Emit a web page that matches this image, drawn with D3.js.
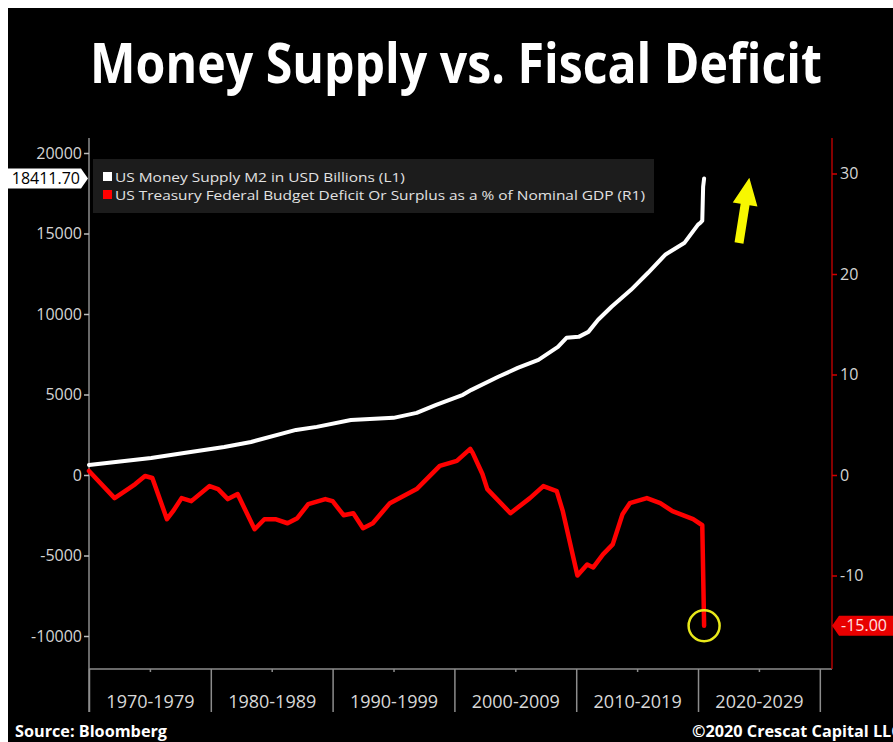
<!DOCTYPE html>
<html>
<head>
<meta charset="utf-8">
<script src="https://cdn.jsdelivr.net/npm/d3@7"></script>
<style>
  html, body { margin: 0; padding: 0; background: #ffffff; }
  svg { display: block; }
  text { font-family: "Open Sans", "DejaVu Sans", sans-serif; }
</style>
</head>
<body>
<svg id="chart" width="893" height="742"></svg>
<script>
// ---- data -------------------------------------------------------------
// US Money Supply M2, USD billions (left axis)
const m2Years  = [1970.0, 1975.1, 1977.8, 1981.1, 1983.3, 1987.0, 1988.7, 1991.5, 1995.0, 1996.9,
                  1998.5, 2000.7, 2001.4, 2003.6, 2005.2, 2006.9, 2008.5, 2009.2, 2010.2, 2011.0,
                  2011.8, 2012.9, 2014.5, 2015.9, 2017.3, 2018.9, 2020.0, 2020.2, 2020.35, 2020.42, 2020.5];
const m2Values = [620, 1060, 1370, 1740, 2050, 2800, 2990, 3420, 3550, 3860,
                  4350, 4980, 5290, 6100, 6650, 7150, 7960, 8520, 8580, 8890,
                  9640, 10450, 11500, 12560, 13680, 14430, 15550, 15670, 15800, 17910, 18411.7];

// Federal budget deficit / surplus, % of nominal GDP (right axis)
const defYears  = [1970.0, 1972.1, 1973.2, 1973.8, 1974.6, 1975.2, 1976.4, 1976.9, 1977.6, 1978.4,
                   1979.9, 1980.6, 1981.4, 1982.2, 1983.6, 1984.4, 1985.3, 1986.3, 1987.1, 1988.0,
                   1989.4, 1990.0, 1990.9, 1991.7, 1992.5, 1993.3, 1994.7, 1996.9, 1998.8, 2000.2,
                   2001.3, 2001.5, 2002.3, 2002.7, 2004.6, 2006.2, 2007.3, 2008.4, 2008.9, 2010.1,
                   2010.9, 2011.4, 2012.2, 2013.0, 2013.8, 2014.4, 2015.8, 2016.9, 2017.9, 2019.6,
                   2020.35, 2020.5];
const defValues = [0.4, -2.3, -1.4, -0.9, -0.1, -0.3, -4.4, -3.6, -2.3, -2.6,
                   -1.1, -1.4, -2.4, -1.9, -5.4, -4.4, -4.4, -4.8, -4.3, -2.9,
                   -2.4, -2.6, -4.0, -3.8, -5.3, -4.8, -2.8, -1.4, 0.9, 1.4,
                   2.6, 2.2, 0.1, -1.4, -3.8, -2.3, -1.1, -1.6, -3.6, -10.0,
                   -8.9, -9.2, -7.9, -6.9, -3.9, -2.8, -2.3, -2.8, -3.6, -4.4,
                   -5.0, -15.0];

// axis ticks and labels
const leftTicks   = [-10000, -5000, 0, 5000, 10000, 15000, 20000];
const rightTicks  = [-10, 0, 10, 20, 30];
const decadeStarts = [1970, 1980, 1990, 2000, 2010, 2020, 2030];
const decadeMids   = [1975, 1985, 1995, 2005, 2015, 2025];

const titleText   = "Money Supply vs. Fiscal Deficit";
const seriesNames = ["US Money Supply M2 in USD Billions (L1)",
                     "US Treasury Federal Budget Deficit Or Surplus as a % of Nominal GDP (R1)"];
const sourceText  = "Source: Bloomberg";
const creditText  = "\u00A92020 Crescat Capital LLC";

const m2 = m2Years.map((t, i) => ({ t, v: m2Values[i] }));
const def = defYears.map((t, i) => ({ t, v: defValues[i] }));

// plain numbers with an ASCII hyphen for negatives
const plain = d => String(d);

// ---- layout -----------------------------------------------------------
const W = 893, H = 742;
const plotLeft = 89, plotRight = 832, plotTop = 138, plotBottom = 669;

const svg = d3.select("#chart");

// black canvas with a thin white margin on the top and left
svg.append("rect").attr("x", 0).attr("y", 0).attr("width", W).attr("height", H).attr("fill", "#ffffff");
svg.append("rect").attr("x", 8).attr("y", 8).attr("width", W - 8).attr("height", H - 8).attr("fill", "#000000");

// scales
const x  = d3.scaleLinear().domain([1970, 2031]).range([plotLeft, plotRight]);
const yL = d3.scaleLinear().domain([-10000, 20000]).range([636, 153]);
const yR = d3.scaleLinear().domain([-10, 30]).range([575.5, 173.5]);

// ---- title ------------------------------------------------------------
// set in a tall bold face, then narrowed horizontally to span the plot width
const titleG = svg.append("g");
const title = titleG.append("text")
  .attr("x", 0).attr("y", 0)
  .attr("text-anchor", "middle")
  .attr("fill", "#ffffff")
  .attr("font-size", 55)
  .attr("font-weight", 700)
  .text(titleText);
const titleScale = 732 / title.node().getComputedTextLength();
titleG.attr("transform", `translate(456,83) scale(${titleScale},1)`);

// ---- x axis: decade bands ----------------------------------------------
svg.append("line")
  .attr("x1", plotLeft).attr("x2", plotRight)
  .attr("y1", plotBottom).attr("y2", plotBottom)
  .attr("stroke", "#8c8c8c").attr("stroke-width", 1.5);

const xSep = svg.append("g").attr("transform", `translate(0,${plotBottom})`)
  .call(d3.axisBottom(x).tickValues(decadeStarts).tickSize(43).tickFormat(""));
xSep.select(".domain").remove();
xSep.selectAll(".tick line").attr("stroke", "#8c8c8c").attr("stroke-width", 1.5);

const xLab = svg.append("g").attr("transform", `translate(0,${plotBottom})`)
  .call(d3.axisBottom(x).tickValues(decadeMids).tickSize(3).tickPadding(23)
    .tickFormat(d => `${d - 5}-${d + 4}`));
xLab.select(".domain").remove();
xLab.selectAll(".tick line").attr("stroke", "#8c8c8c").attr("stroke-width", 1.5);
xLab.selectAll(".tick text")
  .attr("fill", "#d8d8d8")
  .attr("font-size", 18)
  .attr("font-family", "'Open Sans', sans-serif");

// ---- left axis ----------------------------------------------------------
svg.append("line")
  .attr("x1", plotLeft).attr("x2", plotLeft)
  .attr("y1", plotTop).attr("y2", plotBottom + 43)
  .attr("stroke", "#8c8c8c").attr("stroke-width", 1.5);

const axL = svg.append("g").attr("transform", `translate(${plotLeft},0)`)
  .call(d3.axisLeft(yL).tickValues(leftTicks).tickSize(5).tickPadding(2).tickFormat(plain));
axL.select(".domain").remove();
axL.selectAll(".tick line").attr("stroke", "#bdbdbd").attr("stroke-width", 1.5);
axL.selectAll(".tick text")
  .attr("fill", "#d4d4d4")
  .attr("font-size", 16)
  .attr("font-family", "'Open Sans', sans-serif");

// ---- right axis ---------------------------------------------------------
svg.append("line")
  .attr("x1", plotRight).attr("x2", plotRight)
  .attr("y1", plotTop).attr("y2", plotBottom)
  .attr("stroke", "#b00000").attr("stroke-width", 1.5);

const axR = svg.append("g").attr("transform", `translate(${plotRight},0)`)
  .call(d3.axisRight(yR).tickValues(rightTicks).tickSize(5).tickPadding(3).tickFormat(plain));
axR.select(".domain").remove();
axR.selectAll(".tick line").attr("stroke", "#d00000").attr("stroke-width", 1.5);
axR.selectAll(".tick text")
  .attr("fill", "#d4d4d4")
  .attr("font-size", 16)
  .attr("font-family", "'Open Sans', sans-serif");

// ---- legend -------------------------------------------------------------
svg.append("rect")
  .attr("x", 93).attr("y", 159).attr("width", 561).attr("height", 54)
  .attr("fill", "#1c1c1c");

const legendColors = ["#ffffff", "#ff0000"];
const legendY = [177, 195];
const legend = svg.append("g");
seriesNames.forEach((name, i) => {
  legend.append("rect")
    .attr("x", 103).attr("y", legendY[i] - 5).attr("width", 9).attr("height", 9)
    .attr("fill", legendColors[i]);
  legend.append("text")
    .attr("class", "legend-label")
    .attr("x", 115).attr("y", legendY[i] + 5)
    .attr("fill", "#e2e2e2")
    .attr("font-size", 13)
    .text(name);
});
// stretch the legend type so the long entry spans the box; the short one keeps the same proportion
const labels = legend.selectAll(".legend-label").nodes();
const stretch = 530 / labels[1].getComputedTextLength();
labels.forEach(node => {
  d3.select(node)
    .attr("textLength", node.getComputedTextLength() * stretch)
    .attr("lengthAdjust", "spacingAndGlyphs");
});

// ---- series -------------------------------------------------------------
const lineM2 = d3.line().x(d => x(d.t)).y(d => yL(d.v));
const lineDef = d3.line().x(d => x(d.t)).y(d => yR(d.v));

svg.append("path").datum(def)
  .attr("d", lineDef)
  .attr("fill", "none")
  .attr("stroke", "#ff0000")
  .attr("stroke-width", 4.5)
  .attr("stroke-linejoin", "round")
  .attr("stroke-linecap", "round");

svg.append("path").datum(m2)
  .attr("d", lineM2)
  .attr("fill", "none")
  .attr("stroke", "#ffffff")
  .attr("stroke-width", 4)
  .attr("stroke-linejoin", "round")
  .attr("stroke-linecap", "round");

// ---- last-value tags ----------------------------------------------------
const lastM2 = m2[m2.length - 1];
const lastDef = def[def.length - 1];

const tagL = svg.append("g").attr("transform", `translate(0,${yL(lastM2.v)})`);
tagL.append("path")
  .attr("d", "M0,-10 L81,-10 L88,0 L81,10 L0,10 Z")
  .attr("fill", "#ffffff");
tagL.append("text")
  .attr("x", 80).attr("y", 5.5)
  .attr("text-anchor", "end")
  .attr("fill", "#000000")
  .attr("font-size", 16)
  .text(lastM2.v.toFixed(2));

const tagR = svg.append("g").attr("transform", `translate(${plotRight},${yR(lastDef.v)})`);
tagR.append("path")
  .attr("d", "M0,0 L7,-10 L70,-10 L70,10 L7,10 Z")
  .attr("fill", "#e80000");
tagR.append("text")
  .attr("x", 9).attr("y", 5.5)
  .attr("fill", "#ffe0e0")
  .attr("font-size", 16)
  .text(lastDef.v.toFixed(2));

// ---- annotations --------------------------------------------------------
// ring around the latest deficit reading
svg.append("circle")
  .attr("cx", x(lastDef.t)).attr("cy", yR(lastDef.v))
  .attr("r", 15.5)
  .attr("fill", "none")
  .attr("stroke", "#e8e81a")
  .attr("stroke-width", 2.5);

// upward arrow beside the M2 spike
const arrowLen = 66, headLen = 27, shaftHalf = 4.5, headHalf = 12.5;
svg.append("path")
  .attr("transform", "translate(739,243) rotate(9)")
  .attr("d", `M${-shaftHalf},0 L${-shaftHalf},${-(arrowLen - headLen)} L${-headHalf},${-(arrowLen - headLen)}
              L0,${-arrowLen} L${headHalf},${-(arrowLen - headLen)} L${shaftHalf},${-(arrowLen - headLen)}
              L${shaftHalf},0 Z`)
  .attr("fill", "#f7f700");

// ---- footer -------------------------------------------------------------
const src = svg.append("text")
  .attr("x", 15).attr("y", 737)
  .attr("fill", "#ffffff")
  .attr("font-size", 16)
  .attr("font-weight", 700)
  .text(sourceText);
const srcScale = 152 / src.node().getComputedTextLength();
src.attr("textLength", 152).attr("lengthAdjust", "spacingAndGlyphs");

const credit = svg.append("text")
  .attr("x", 692).attr("y", 737)
  .attr("fill", "#ffffff")
  .attr("font-size", 16)
  .attr("font-weight", 700)
  .text(creditText);
credit.attr("textLength", credit.node().getComputedTextLength() * srcScale)
  .attr("lengthAdjust", "spacingAndGlyphs");
</script>
</body>
</html>
